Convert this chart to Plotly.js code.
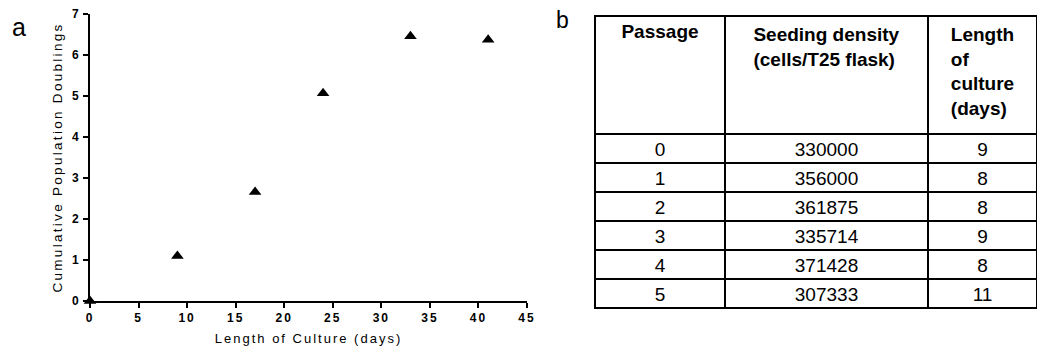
<!DOCTYPE html>
<html>
<head>
<meta charset="utf-8">
<script src="https://cdn.plot.ly/plotly-3.0.1.min.js"></script>
<style>
html,body{margin:0;padding:0;background:#fff;}
#chart{width:1037px;height:356px;}
</style>
</head>
<body>
<div id="chart"></div>
<script>
// Panel a: scatter data
const cultureDays = [0, 9, 17, 24, 33, 41];
const cumulativePD = [0, 1.1, 2.66, 5.07, 6.46, 6.37];

// Panel b: table data
const tableHeaders = ["Passage", "Seeding density<br>(cells/T25 flask)", "Length<br>of<br>culture<br>(days)"];
const passages = ["0", "1", "2", "3", "4", "5"];
const seedingDensity = ["330000", "356000", "361875", "335714", "371428", "307333"];
const cultureLength = ["9", "8", "8", "9", "8", "11"];

const W = 1037, H = 356;
const font = "Liberation Sans, Arial, sans-serif";

const scatter = {
  type: "scatter", mode: "markers",
  x: cultureDays, y: cumulativePD,
  marker: {symbol: "triangle-up", size: 11, color: "#000"},
  cliponaxis: false, showlegend: false, hoverinfo: "skip",
  xaxis: "x", yaxis: "y"
};

const table = {
  type: "table",
  domain: {x: [595 / W, 1], y: [0, 1 - 16 / H]},
  columnwidth: [130, 203, 109],
  header: {
    values: tableHeaders,
    align: "center",
    height: 118,
    line: {color: "#000", width: 2},
    fill: {color: "#fff"},
    font: {family: font, size: 19, color: "#000", weight: 700}
  },
  cells: {
    values: [passages, seedingDensity, cultureLength],
    align: "center",
    height: 29,
    line: {color: "#000", width: 2},
    fill: {color: "#fff"},
    font: {family: font, size: 19, color: "#000"}
  }
};

const tickFont = {family: font, size: 12, color: "#000", weight: 700};
const layout = {
  width: W, height: H,
  margin: {l: 0, r: 0, t: 0, b: 0},
  paper_bgcolor: "#fff", plot_bgcolor: "#fff",
  font: {family: font, color: "#000"},
  xaxis: {
    domain: [90 / W, 527 / W], range: [0, 45],
    tickvals: [0, 5, 10, 15, 20, 25, 30, 35, 40, 45],
    showgrid: false, zeroline: false,
    showline: true, linecolor: "#000", linewidth: 2,
    ticks: "outside", ticklen: 5, tickwidth: 2, tickcolor: "#000",
    tickfont: tickFont, anchor: "y",
    title: {text: "Length of Culture (days)", font: {family: font, size: 13, color: "#000"}, standoff: 9}
  },
  yaxis: {
    domain: [55 / H, 342 / H], range: [0, 7],
    tickvals: [0, 1, 2, 3, 4, 5, 6, 7],
    showgrid: false, zeroline: false,
    showline: true, linecolor: "#000", linewidth: 2,
    ticks: "outside", ticklen: 5, tickwidth: 2, tickcolor: "#000",
    tickfont: tickFont, anchor: "x",
    title: {text: "Cumulative Population Doublings", font: {family: font, size: 13.5, color: "#000"}, standoff: 8}
  },
  annotations: [
    {text: "a", x: 10 / W, y: 1 - 27 / H, xref: "paper", yref: "paper", xanchor: "left", yanchor: "middle", showarrow: false, font: {family: font, size: 25, color: "#000"}},
    {text: "b", x: 554 / W, y: 1 - 20 / H, xref: "paper", yref: "paper", xanchor: "left", yanchor: "middle", showarrow: false, font: {family: font, size: 23, color: "#000"}}
  ]
};

function styleText() {
  document.querySelectorAll("#chart g.xtick text, #chart g.ytick text").forEach(t => {
    t.setAttribute("letter-spacing", "2px");
    t.style.setProperty("letter-spacing", "2px");
    t.style.setProperty("font-weight", "700");
  });
  document.querySelectorAll("#chart g.g-xtitle text").forEach(t => t.style.setProperty("letter-spacing", "2px"));
  document.querySelectorAll("#chart g.g-ytitle text").forEach(t => t.style.setProperty("letter-spacing", "2.3px"));
}

Plotly.newPlot("chart", [scatter, table], layout, {staticPlot: true, displayModeBar: false}).then(styleText);
</script>
</body>
</html>
